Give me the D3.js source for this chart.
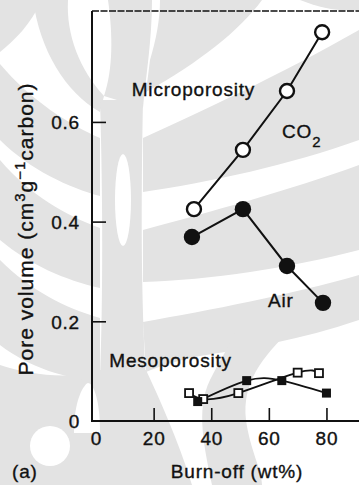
<!DOCTYPE html>
<html>
<head>
<meta charset="utf-8">
<script src="https://cdn.jsdelivr.net/npm/d3@7"></script>
<style>
  html, body { margin: 0; padding: 0; background: #fff; }
  svg { display: block; }
  text { font-family: "Liberation Sans", Arial, Helvetica, sans-serif; fill: #111;
         stroke: #111; stroke-width: 0.35px; letter-spacing: 0.8px; }
</style>
</head>
<body>
<svg id="chart" width="359" height="485"></svg>
<script>
// ---- data ----
const xTicks = [0, 20, 40, 60, 80];
const yTicks = [0, 0.2, 0.4, 0.6];
const yTickLabels = ["0", "0.2", "0.4", "0.6"];

const co2X = [34, 51, 66.3, 78.5];
const co2Y = [0.425, 0.544, 0.662, 0.78];

const airX = [33.3, 51, 66.3, 78.8];
const airY = [0.369, 0.425, 0.311, 0.237];

const mesoOpenX = [32.3, 37.2, 49.4, 70, 77.4];
const mesoOpenY = [0.056, 0.044, 0.056, 0.097, 0.096];

const mesoFilledX = [35.3, 52.3, 64.5, 80];
const mesoFilledY = [0.039, 0.081, 0.081, 0.056];

const annotations = [
  { text: "Microporosity", x: 12.4, y: 0.652 },
  { text: "Air", x: 59.7, y: 0.229 },
  { text: "Mesoporosity", x: 4.6, y: 0.108 }
];

// ---- layout ----
const svg = d3.select("#chart");
const pL = 92, pR = 359, pT = 11, pB = 421;
const fs = 19;
const ink = "#111";
const wm = "#e3e3e3";

// faint background watermark (decorative, from the scanned page)
const bg = svg.append("g");
[
  // tulip lobes and stem
  "M33,0 L68,0 C66,35 80,70 104,96 L100,112 C65,92 40,50 33,0 Z",
  "M108,0 L152,0 C152,40 146,75 143,108 L104,96 C113,70 113,35 108,0 Z",
  "M100,100 L143,100 C141,200 141,300 146,380 L100,380 C103,300 103,200 100,100 Z",
  "M100,370 L146,370 C160,400 178,440 192,485 L0,485 L0,365 C30,375 70,380 100,370 Z",
  // left leaves
  "M42,0 C30,25 15,40 0,52 L0,0 Z",
  "M100,138 C70,125 30,100 0,64 L0,140 C30,170 70,188 100,196 Z",
  "M100,228 C65,215 30,195 0,160 L0,240 C30,265 65,280 100,288 Z",
  "M100,318 C65,308 30,290 0,260 L0,345 C30,368 65,378 100,382 Z",
  // right leaves
  "M160,0 L262,0 C240,30 200,62 146,92 L150,60 C156,40 160,20 160,0 Z",
  "M300,0 L359,0 L359,10 C340,12 320,8 300,0 Z",
  "M143,138 C200,112 280,75 359,30 L359,140 C290,165 210,182 143,192 Z",
  "M143,230 C210,212 290,190 359,165 L359,250 C290,268 210,280 143,282 Z",
  "M143,322 C210,310 290,295 359,275 L359,320 C300,340 250,348 200,356 C180,360 160,366 146,372 Z",
  "M236,330 L290,330 C262,358 242,382 246,420 C250,450 262,470 262,485 L212,485 C205,450 195,410 210,380 C220,360 230,345 236,330 Z"
].forEach(d => bg.append("path").attr("d", d).attr("fill", wm));
bg.append("ellipse").attr("cx", 123).attr("cy", 200).attr("rx", 8).attr("ry", 46).attr("fill", "#fff");
bg.append("circle").attr("cx", 50).attr("cy", 446).attr("r", 20).attr("fill", "#fff");
bg.append("path").attr("d", "M74,433 C74,395 86,383 88,383 C92,383 100,395 100,433 Z").attr("fill", "#fff");

const x = d3.scaleLinear().domain([-1.4, 91.3]).range([pL, pR]);
const y = d3.scaleLinear().domain([0, 0.8225]).range([pB, pT]);

// axes
const yAxis = d3.axisLeft(y).tickValues(yTicks)
  .tickFormat((d, i) => yTickLabels[i])
  .tickSizeInner(-14).tickSizeOuter(0).tickPadding(12);
const gy = svg.append("g").attr("transform", `translate(${pL},0)`).call(yAxis);
gy.select(".domain").remove();
gy.selectAll(".tick line").attr("stroke", ink).attr("stroke-width", 1.6)
  .filter(d => d === 0).remove();
gy.selectAll(".tick text").style("font-size", fs + "px").attr("fill", ink)
  .attr("font-family", null).attr("dy", "0.36em");

const xAxis = d3.axisBottom(x).tickValues(xTicks)
  .tickFormat(d3.format("d"))
  .tickSizeInner(-13).tickSizeOuter(0).tickPadding(10.5);
const gx = svg.append("g").attr("transform", `translate(0,${pB})`).call(xAxis);
gx.select(".domain").remove();
gx.selectAll(".tick line").attr("stroke", ink).attr("stroke-width", 1.6)
  .filter(d => d === 0).remove();
gx.selectAll(".tick text").style("font-size", fs + "px").attr("fill", ink)
  .attr("font-family", null);

// frame lines
svg.append("line").attr("x1", pL).attr("x2", pL).attr("y1", pT).attr("y2", pB + 1)
  .attr("stroke", ink).attr("stroke-width", 2);
svg.append("line").attr("x1", pL - 1).attr("x2", pR).attr("y1", pB).attr("y2", pB)
  .attr("stroke", ink).attr("stroke-width", 2);
svg.append("line").attr("x1", pL).attr("x2", pR).attr("y1", pT).attr("y2", pT)
  .attr("stroke", ink).attr("stroke-width", 1.3).attr("stroke-dasharray", "7,1.5");

// series helpers
const zip = (xs, ys) => xs.map((v, i) => [v, ys[i]]);
const co2 = zip(co2X, co2Y), air = zip(airX, airY);
const mOpen = zip(mesoOpenX, mesoOpenY), mFill = zip(mesoFilledX, mesoFilledY);

const straight = d3.line().x(d => x(d[0])).y(d => y(d[1]));
const smooth = d3.line().x(d => x(d[0])).y(d => y(d[1])).curve(d3.curveNatural);

[co2, air].forEach(s => svg.append("path").attr("d", straight(s))
  .attr("fill", "none").attr("stroke", ink).attr("stroke-width", 2));
[mOpen, mFill].forEach(s => svg.append("path").attr("d", smooth(s))
  .attr("fill", "none").attr("stroke", ink).attr("stroke-width", 1.8));

svg.selectAll(".co2").data(co2).join("circle")
  .attr("cx", d => x(d[0])).attr("cy", d => y(d[1])).attr("r", 7)
  .attr("fill", "#fff").attr("stroke", ink).attr("stroke-width", 2.4);
svg.selectAll(".air").data(air).join("circle")
  .attr("cx", d => x(d[0])).attr("cy", d => y(d[1])).attr("r", 8.2)
  .attr("fill", ink);

const sq = 8;
svg.selectAll(".mo").data(mOpen).join("rect")
  .attr("x", d => x(d[0]) - sq / 2).attr("y", d => y(d[1]) - sq / 2)
  .attr("width", sq).attr("height", sq)
  .attr("fill", "#fff").attr("stroke", ink).attr("stroke-width", 1.8);
svg.selectAll(".mf").data(mFill).join("rect")
  .attr("x", d => x(d[0]) - (sq + 1) / 2).attr("y", d => y(d[1]) - (sq + 1) / 2)
  .attr("width", sq + 1).attr("height", sq + 1)
  .attr("fill", ink);

// annotations
annotations.forEach(a => svg.append("text")
  .attr("x", x(a.x)).attr("y", y(a.y)).style("font-size", fs + "px").text(a.text));

const co2Label = svg.append("text").attr("x", x(64.6)).attr("y", y(0.568))
  .style("font-size", fs + "px");
co2Label.append("tspan").text("CO");
co2Label.append("tspan").attr("dy", 9).style("font-size", "15px").text("2");

// axis titles
svg.append("text").attr("x", 12).attr("y", 478).style("font-size", fs + "px").text("(a)");
svg.append("text").attr("x", 237).attr("y", 478).attr("text-anchor", "middle")
  .style("font-size", fs + "px").text("Burn-off (wt%)");

const yt = svg.append("text").attr("transform", "translate(32.5,229) rotate(-90)")
  .attr("text-anchor", "middle").style("font-size", "21px").style("letter-spacing", "1px");
yt.append("tspan").text("Pore volume (cm");
yt.append("tspan").attr("dy", -8).style("font-size", "15px").text("3");
yt.append("tspan").attr("dy", 8).text("g");
yt.append("tspan").attr("dy", -8).style("font-size", "15px").text("\u22121");
yt.append("tspan").attr("dy", 8).text("carbon)");
</script>
</body>
</html>
